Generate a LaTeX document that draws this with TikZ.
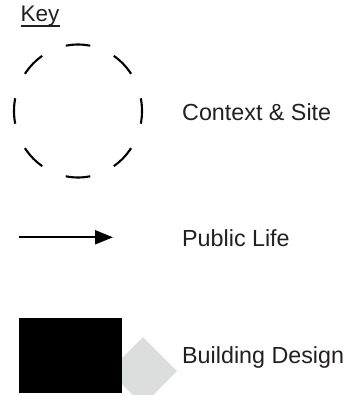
\documentclass[tikz,border=0pt]{standalone}
\usepackage{fontspec}
\setmainfont{Liberation Sans}
\usetikzlibrary{arrows.meta}
\definecolor{txt}{HTML}{231F20}
\definecolor{lightgrey}{HTML}{DCDDDD}
\tikzset{
  label text/.style={anchor=base west, inner sep=0pt, text=txt, font=\fontsize{23.3}{28}\selectfont},
  keydash/.style={line width=2.1pt, black},
  keyarrow/.style={line width=2.1pt, -{Triangle[length=18pt, width=14pt]}},
}
\begin{document}
\begin{tikzpicture}[x=1pt, y=1pt]
\useasboundingbox (0,0) rectangle (357,-395);
\clip (0,0) rectangle (357,-395);
% title
\node[anchor=base west, inner sep=0pt, text=txt, font=\fontsize{22.5}{27}\selectfont] (key) at (20.5,-21.5) {Key};
\draw[line width=1.4pt, txt] ([yshift=-4.5pt]key.base west) -- ([yshift=-4.5pt]key.base east);
% dashed circle
\coordinate (cc) at (78,-111);
\foreach \a in {0,45,...,315}{
  \draw[keydash] (cc) ++(\a-11:64 and 66.5) arc[start angle=\a-11, end angle=\a+11, x radius=64, y radius=66.5];
}
\node[label text] (ctx) at (182,-121) {Context \& Site};
% arrow
\coordinate (as) at (19,-237.3);
\coordinate (ae) at (113,-237.3);
\draw[keyarrow] (as) -- (ae);
\node[label text] (pub) at (182,-246) {Public Life};
% building
\fill[lightgrey] (143,-337) -- (177,-371) -- (143,-405) -- (109,-371) -- cycle;
\fill[black] (19,-318) rectangle (122,-393);
\node[label text] (bld) at (182,-363) {Building Design};
\end{tikzpicture}
\end{document}
